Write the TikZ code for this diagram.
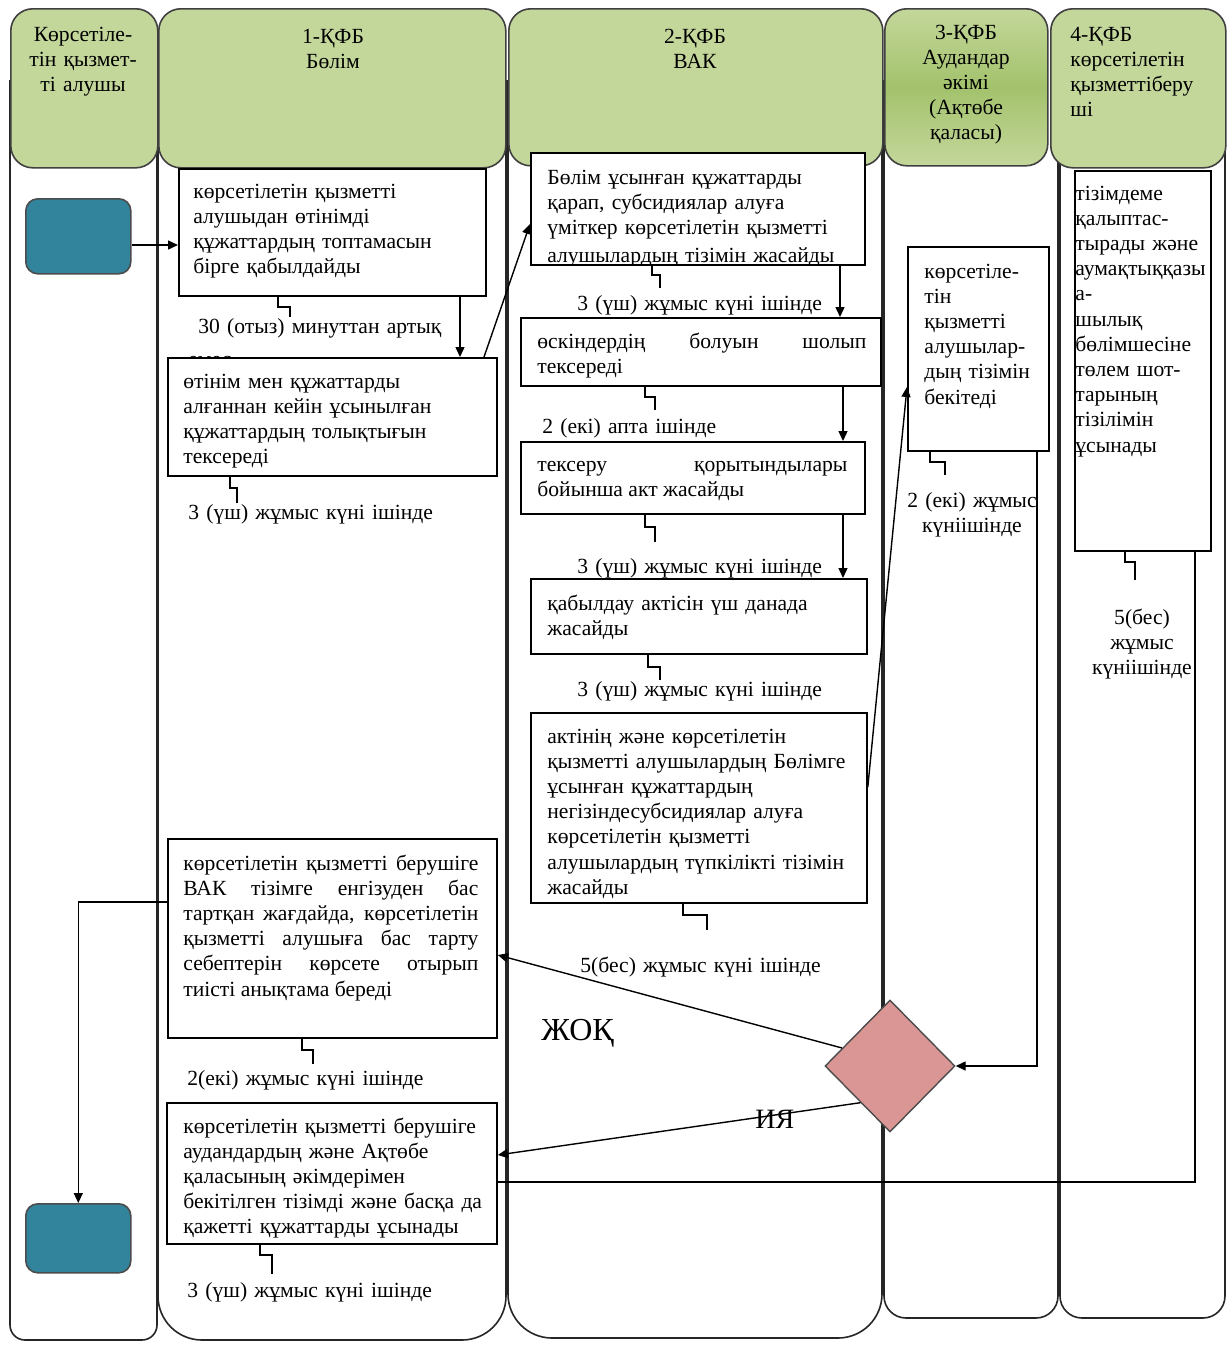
\documentclass[tikz,border=0pt]{standalone}
\usepackage{fontspec}
\setmainfont{Liberation Serif}
\usetikzlibrary{arrows.meta,shapes.geometric,calc}
\definecolor{hdrgreen}{HTML}{C4D79B}
\definecolor{hdrdark}{HTML}{A3C26C}
\definecolor{termblue}{HTML}{31849B}
\definecolor{diapink}{HTML}{D99694}
\hyphenpenalty=10000
\exhyphenpenalty=10000
\begin{document}
\begin{tikzpicture}[x=0.5pt,y=-0.5pt,
  lane/.style={draw=black!85,line width=0.8pt},
  hdr/.style={draw=black!75,line width=0.8pt,fill=hdrgreen,rounded corners=11pt,inner sep=0pt,anchor=north west},
  box/.style={draw=black,line width=0.9pt,fill=white,rectangle,inner sep=0pt,anchor=north west},
  txt/.style={inner sep=0pt,font=\fontsize{10.8}{12.6}\selectfont,align=left,anchor=base west},
  jtxt/.style={txt,align=justify},
  ctxt/.style={inner sep=0pt,font=\fontsize{10.8}{12.6}\selectfont,align=center,anchor=base},
  arr/.style={-{Triangle[length=5pt,width=4.5pt]},line width=0.7pt},
  conn/.style={line width=0.7pt},
  term/.style={draw=black!70,fill=termblue,rounded corners=6pt,line width=0.8pt,inner sep=0pt,anchor=north west},
  dec/.style={diamond,aspect=1,draw=black!70,fill=diapink,line width=0.7pt,inner sep=0pt,minimum width=65pt,minimum height=66pt}
]
\useasboundingbox (0,0) rectangle (1227,1345);
\fill[white] (0,0) rectangle (1227,1345);

% lane bodies
\draw[lane] (10,80) [rounded corners=7.5pt] -- (10,1340) -- (157,1340) -- (157,80);
\draw[lane] (158,80) [rounded corners=22pt] -- (158,1340) -- (506,1340) -- (506,80);
\draw[lane] (508,80) [rounded corners=22pt] -- (508,1338) -- (882,1338) -- (882,80);
\draw[lane] (884,80) [rounded corners=11pt] -- (884,1318) -- (1058,1318) -- (1058,80);
\draw[lane] (1060,80) [rounded corners=11pt] -- (1060,1318) -- (1225,1318) -- (1225,80);

% headers
\node[hdr,minimum width=73.5pt,minimum height=79.5pt] (h0) at (10,8) {};
\node[hdr,minimum width=173.5pt,minimum height=79.5pt] (h1) at (158,8) {};
\node[hdr,minimum width=187pt,minimum height=78.5pt] (h2) at (508,8) {};
\node[hdr,minimum width=81.5pt,minimum height=78.5pt,top color=hdrgreen,bottom color=hdrgreen,middle color=hdrdark] (h3) at (884,8) {};
\node[hdr,minimum width=87.5pt,minimum height=79.5pt] (h4) at (1050,8) {};

\node[ctxt,text width=72pt] (h0t) at (83,41) {Көрсетіле-\\тін қызмет-\\ті алушы};
\node[ctxt,text width=160pt] (h1t) at (333,43) {1-ҚФБ\\Бөлім};
\node[ctxt,text width=160pt] (h2t) at (695,43) {2-ҚФБ\\ВАК};
\node[ctxt,text width=80pt] (h3t) at (966,39) {3-ҚФБ\\Аудандар\\әкімі\\(Ақтөбе\\қаласы)};
\node[txt,text width=85pt] (h4t) at (1070,41) {4-ҚФБ\\көрсетілетін\\қызметтіберу\\ші};

% terminals
\node[term,minimum width=52.5pt,minimum height=37.5pt] (start) at (25,198) {};
\node[term,minimum width=52.5pt,minimum height=34.5pt] (end) at (25,1203) {};

% label partly hidden by box 2
\node[txt,text width=160pt] (l1) at (188,333) {\hspace*{5pt}30 (отыз) минуттан артық\\[4pt]емес};

% boxes
\node[box,minimum width=153.5pt,minimum height=63.5pt] (b1) at (178,168) {};
\node[box,minimum width=164.5pt,minimum height=59pt] (b2) at (167,357) {};
\node[box,minimum width=167pt,minimum height=56pt] (b3) at (530,152) {};
\node[box,minimum width=180pt,minimum height=34pt] (b4) at (520,317) {};
\node[box,minimum width=172pt,minimum height=36pt] (b5) at (520,441) {};
\node[box,minimum width=168pt,minimum height=37.5pt] (b6) at (530,578) {};
\node[box,minimum width=168pt,minimum height=95pt] (b7) at (530,712) {};
\node[box,minimum width=70.5pt,minimum height=102pt] (b8) at (907,246) {};
\node[box,minimum width=68pt,minimum height=190pt] (b9) at (1074,170) {};
\node[box,minimum width=164.5pt,minimum height=99.5pt] (b10) at (167,838) {};
\node[box,minimum width=165pt,minimum height=70.5pt] (b11) at (166,1102) {};
\node[dec] (d) at (890,1066) {};

% box texts
\node[txt,text width=150pt] (t1) at (193,198) {көрсетілетін қызметті\\алушыдан өтінімді\\құжаттардың топтамасын\\бірге қабылдайды};
\node[txt,text width=155pt] (t2) at (183,388) {өтінім мен құжаттарды\\алғаннан кейін ұсынылған\\құжаттардың толықтығын\\тексереді};
\begin{scope}
\clip (b3.south west) rectangle (b3.north east);
\node[txt,text width=160pt] (t3) at (547,184) {Бөлім ұсынған құжаттарды\\қарап, субсидиялар алуға\\үміткер көрсетілетін қызметті\\[1.2pt]алушылардың тізімін жасайды};
\end{scope}
\node[jtxt,text width=164.5pt] (t4) at (537,348) {өскіндердің болуын шолып\linebreak тексереді};
\node[jtxt,text width=155pt] (t5) at (537,471) {тексеру қорытындылары\linebreak бойынша акт жасайды};
\node[txt,text width=155pt] (t6) at (547,610) {қабылдау актісін үш данада\\жасайды};
\node[txt,text width=160pt] (t7) at (547,743) {актінің және көрсетілетін\\қызметті алушылардың Бөлімге\\ұсынған құжаттардың\\негізіндесубсидиялар алуға\\көрсетілетін қызметті\\алушылардың түпкілікті тізімін\\жасайды};
\node[txt,text width=65pt] (t8) at (924,278) {көрсетіле-\\тін\\қызметті\\алушылар-\\дың тізімін\\бекітеді};
\node[txt,text width=80pt] (t9) at (1075,200) {тізімдеме\\қалыптас-\\тырады және\\аумақтыққазы\\а-\\шылық\\бөлімшесіне\\төлем шот-\\тарының\\тізілімін\\ұсынады};
\node[jtxt,text width=147.5pt] (t10) at (183,870) {көрсетілетін қызметті берушіге\linebreak ВАК тізімге енгізуден бас\linebreak тартқан жағдайда, көрсетілетін\linebreak қызметті алушыға бас тарту\linebreak себептерін көрсете отырып\linebreak тиісті анықтама береді};
\node[txt,text width=160pt] (t11) at (183,1133) {көрсетілетін қызметті берушіге\\аудандардың және Ақтөбе\\қаласының әкімдерімен\\бекітілген тізімді және басқа да\\қажетті құжаттарды ұсынады};

% time labels
\node[txt,text width=130pt] (l2) at (188,519) {3 (үш) жұмыс күні ішінде};
\node[txt,text width=130pt] (l3) at (577,310) {3 (үш) жұмыс күні ішінде};
\node[txt,text width=130pt] (l4) at (542,433) {2 (екі) апта ішінде};
\node[txt,text width=130pt] (l5) at (577,573) {3 (үш) жұмыс күні ішінде};
\node[txt,text width=130pt] (l6) at (577,696) {3 (үш) жұмыс күні ішінде};
\node[txt,text width=130pt] (l7) at (580,972) {5(бес) жұмыс күні ішінде};
\node[ctxt,text width=70pt] (l8) at (972,507) {2 (екі) жұмыс\\күніішінде};
\node[ctxt,text width=70pt] (l9) at (1142,624) {5(бес)\\жұмыс\\күніішінде};
\node[txt,text width=130pt] (l10) at (187,1085) {2(екі) жұмыс күні ішінде};
\node[txt,text width=130pt] (l11) at (187,1297) {3 (үш) жұмыс күні ішінде};
\node[inner sep=0pt,anchor=base west,font=\fontsize{16}{18}\selectfont] (no) at (541,1040) {ЖОҚ};
\node[inner sep=0pt,anchor=base west,font=\fontsize{14}{16}\selectfont] (yes) at (755,1128) {ИЯ};

% squiggles
\draw[conn] (278,0 |- b1.south) -- ++(0,10) -- ++(12,0) -- ++(0,10);
\draw[conn] (230,0 |- b2.south) -- ++(0,11) -- ++(7,0) -- ++(0,15);
\draw[conn] (652,0 |- b3.south) -- ++(0,9) -- ++(8,0) -- ++(0,13);
\draw[conn] (645,0 |- b4.south) -- ++(0,10) -- ++(10,0) -- ++(0,13);
\draw[conn] (645,0 |- b5.south) -- ++(0,12) -- ++(10,0) -- ++(0,15);
\draw[conn] (648,0 |- b6.south) -- ++(0,12) -- ++(12,0) -- ++(0,13);
\draw[conn] (683,0 |- b7.south) -- ++(0,11) -- ++(24,0) -- ++(0,15);
\draw[conn] (930,0 |- b8.south) -- ++(0,10) -- ++(15,0) -- ++(0,13);
\draw[conn] (1125,0 |- b9.south) -- ++(0,10) -- ++(10,0) -- ++(0,18);
\draw[conn] (302,0 |- b10.south) -- ++(0,11) -- ++(11,0) -- ++(0,14);
\draw[conn] (260,0 |- b11.south) -- ++(0,10) -- ++(12,0) -- ++(0,19);

% connectors
\draw[arr] (start.east |- 0,245) -- (b1.west |- 0,245);
\draw[arr] (460,0 |- b1.south) -- (460,0 |- b2.north);
\draw[arr] (484,0 |- b2.north) -- (b3.west |- 0,224);
\draw[arr] (840,0 |- b3.south) -- (840,0 |- b4.north);
\draw[arr] (843,0 |- b4.south) -- (843,0 |- b5.north);
\draw[arr] (843,0 |- b5.south) -- (843,0 |- b6.north);
\draw[arr] (b7.east |- 0,787) -- (b8.west |- 0,387);
\draw[arr] (1037,0 |- b8.south) -- (1037,0 |- d.east) -- (d.east);
\draw[arr] ($(d.west)!0.27!(d.north)$) -- (b10.east |- 0,955);
\draw[arr] ($(d.west)!0.55!(d.south)$) -- (b11.east |- 0,1155);
\draw[conn] (1195,0 |- b9.south) -- (1195,1182) -- (b11.east |- 0,1182);
\draw[arr] (b10.west |- 0,902) -| (end.north);
\end{tikzpicture}
\end{document}
